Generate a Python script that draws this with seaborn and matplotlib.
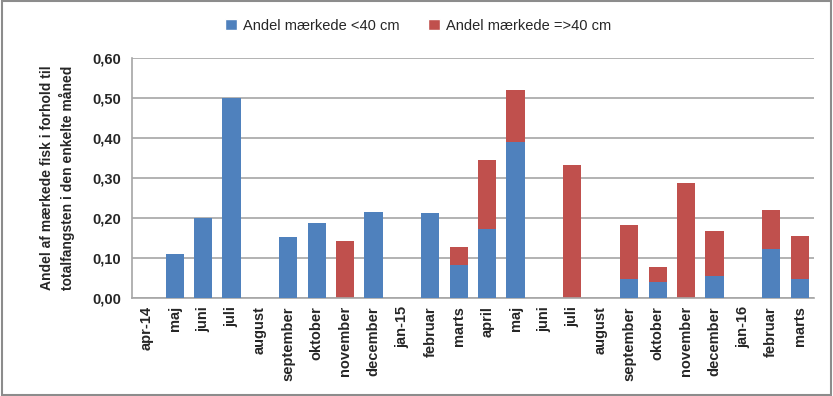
import matplotlib
matplotlib.use("Agg")
import matplotlib.pyplot as plt
import seaborn as sns
import pandas as pd
from matplotlib.patches import Rectangle, Patch

# ==========================================
# 1. DATA
# ==========================================
months = ["apr-14", "maj", "juni", "juli", "august", "september", "oktober",
          "november", "december", "jan-15", "februar", "marts", "april", "maj",
          "juni", "juli", "august", "september", "oktober", "november",
          "december", "jan-16", "februar", "marts"]

# share of tagged fish < 40 cm
small = [0.0, 0.110, 0.200, 0.500, 0.0, 0.152, 0.187, 0.0, 0.214, 0.0,
         0.211, 0.083, 0.173, 0.389, 0.0, 0.0, 0.0, 0.046, 0.039, 0.0,
         0.055, 0.0, 0.121, 0.048]
# share of tagged fish >= 40 cm
large = [0.0, 0.0, 0.0, 0.0, 0.0, 0.0, 0.0, 0.142, 0.0, 0.0,
         0.0, 0.044, 0.172, 0.131, 0.0, 0.333, 0.0, 0.137, 0.038, 0.286,
         0.113, 0.0, 0.099, 0.106]

yticks = [0.0, 0.1, 0.2, 0.3, 0.4, 0.5, 0.6]

df = pd.DataFrame({"idx": range(len(months)), "month": months,
                   "small": small, "large": large})
df["total"] = df["small"] + df["large"]

blue = "#4F81BD"
red = "#C0504D"

# ==========================================
# 2. PLOTTING
# ==========================================
sns.set_theme(style="white")
plt.rcParams["font.family"] = ["Liberation Sans", "DejaVu Sans"]

fig = plt.figure(figsize=(8.33, 3.96), dpi=100)
ax = fig.add_axes([0.1585, 0.248, 0.8185, 0.606])

# stacked: draw totals in red, then the <40 share in blue on top
sns.barplot(data=df, x="idx", y="total", color=red, width=0.64,
            saturation=1, linewidth=0, ax=ax, zorder=2)
sns.barplot(data=df, x="idx", y="small", color=blue, width=0.64,
            saturation=1, linewidth=0, ax=ax, zorder=3)

ax.set_ylim(0, 0.6)
ax.set_xlim(-0.5, len(months) - 0.5)
ax.set_yticks(yticks)
ax.set_yticklabels([f"{v:.2f}".replace(".", ",") for v in yticks],
                   fontsize=10.5, fontweight="bold")
ax.set_xticks(range(len(months)))
ax.set_xticklabels(months, rotation=90, fontsize=10.5, fontweight="bold")
ax.tick_params(axis="x", length=0, pad=6)
ax.tick_params(axis="y", length=0, pad=8)

ax.yaxis.grid(True, color="#A6A6A6", linewidth=1.2, zorder=0)
ax.set_axisbelow(True)
for s in ["top", "right"]:
    ax.spines[s].set_visible(False)
for s in ["left", "bottom"]:
    ax.spines[s].set_color("#A6A6A6")
    ax.spines[s].set_linewidth(1.2)

ax.set_xlabel("")
ax.set_ylabel("Andel af mærkede fisk i forhold til\ntotalfangsten i den enkelte måned",
              fontsize=10, fontweight="bold", labelpad=12, linespacing=1.4)

handles = [Patch(facecolor=blue), Patch(facecolor=red)]
fig.legend(handles, ["Andel mærkede <40 cm", "Andel mærkede =>40 cm"],
           loc="center", bbox_to_anchor=(0.502, 0.935), ncol=2, frameon=False,
           fontsize=10.5, handlelength=0.8, handleheight=0.8, handletextpad=0.4,
           columnspacing=2.0)

# gray frame around the whole chart
fig.patches.append(Rectangle((0.002, 0.003), 0.996, 0.994, transform=fig.transFigure,
                             fill=False, edgecolor="#8C8C8C", linewidth=1.5))

plt.savefig("out.png", dpi=100)
